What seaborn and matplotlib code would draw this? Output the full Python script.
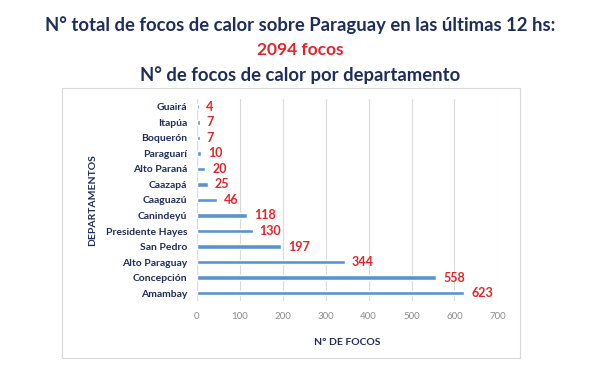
import matplotlib.pyplot as plt
import pandas as pd
import seaborn as sns
from matplotlib.patches import Rectangle

# Datos: focos de calor por departamento (últimas 12 hs)
departamentos = ['Guairá', 'Itapúa', 'Boquerón', 'Paraguarí', 'Alto Paraná',
                 'Caazapá', 'Caaguazú', 'Canindeyú', 'Presidente Hayes',
                 'San Pedro', 'Alto Paraguay', 'Concepción', 'Amambay']
focos = [4, 7, 7, 10, 20, 25, 46, 118, 130, 197, 344, 558, 623]
x_ticks = [0, 100, 200, 300, 400, 500, 600, 700]
total = 2094

df = pd.DataFrame({'departamento': departamentos, 'focos': focos})

navy = '#1F2D5A'
red = '#E0262B'
blue = '#5B93D0'

sns.set_theme(style='white')
plt.rcParams['font.family'] = ['Lato', 'DejaVu Sans']

fig = plt.figure(figsize=(6, 3.78), dpi=100)
ax = fig.add_axes([0.328, 0.204, 0.501, 0.534])

sns.barplot(data=df, x='focos', y='departamento', orient='h',
            color=blue, saturation=1, width=0.3, ax=ax, zorder=3)

# etiquetas de valor
for i, v in enumerate(focos):
    ax.annotate(str(v), xy=(v, i), xytext=(5, 0), textcoords='offset points',
                ha='left', va='center', color=red, fontsize=9,
                fontweight='bold')

ax.set_xlim(0, 700)
ax.set_xticks(x_ticks)
ax.set_xticklabels([str(t) for t in x_ticks], color='#8C8C8C', fontsize=7)
ax.tick_params(axis='y', labelsize=7.5, labelcolor=navy, length=0, pad=7)
ax.tick_params(axis='x', length=0, pad=8)
for lbl in ax.get_yticklabels():
    lbl.set_fontweight('bold')
ax.grid(axis='x', color='#DADADA', linewidth=0.8, zorder=0)
for s in ax.spines.values():
    s.set_visible(False)

ax.set_xlabel('N° DE FOCOS', color=navy, fontsize=7.5, fontweight='bold',
              labelpad=12)
ax.set_ylabel('DEPARTAMENTOS', color=navy, fontsize=7.5, fontweight='bold',
              labelpad=10)
ax.yaxis.set_label_coords(-0.33, 0.5)

# recuadro del gráfico
fig.patches.append(Rectangle((62 / 600, 1 - 358 / 378), 458 / 600, 270 / 378,
                             transform=fig.transFigure, fill=False,
                             edgecolor='#D9D9D9', linewidth=0.8))

# títulos
fig.text(0.5, 1 - 25 / 378, 'N° total de focos de calor sobre Paraguay en las últimas 12 hs:',
         ha='center', va='center', color=navy, fontsize=13.3, fontweight='bold')
fig.text(0.5, 1 - 50 / 378, f'{total} focos', ha='center', va='center',
         color=red, fontsize=12.5, fontweight='bold')
fig.text(0.5, 1 - 75 / 378, 'N° de focos de calor por departamento',
         ha='center', va='center', color=navy, fontsize=13.3, fontweight='bold')

fig.savefig('out.png', dpi=100)
